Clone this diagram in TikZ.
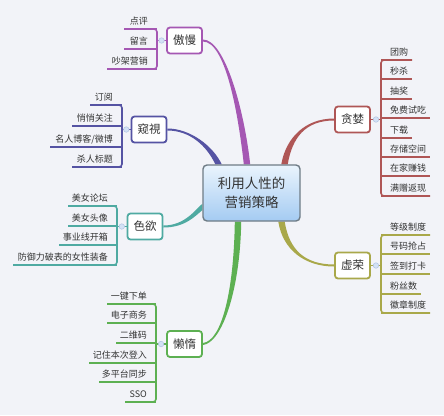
\documentclass[tikz,border=0pt]{standalone}
\usepackage{fontspec}
\setmainfont{Noto Sans CJK SC}
\usetikzlibrary{calc,backgrounds}
\definecolor{bgc}{HTML}{F2F3F8}
\definecolor{cpur}{HTML}{A557B3}
\definecolor{cind}{HTML}{5553A3}
\definecolor{ctea}{HTML}{4FAAA2}
\definecolor{cgre}{HTML}{5DB052}
\definecolor{cred}{HTML}{AF5656}
\definecolor{coli}{HTML}{A9A84A}
\definecolor{txt}{HTML}{333333}
\definecolor{cgray}{HTML}{6F7C86}
\definecolor{knobf}{HTML}{D3E1F5}
\definecolor{knobd}{HTML}{AFC3E3}
\definecolor{ctop}{HTML}{EAF4FD}
\definecolor{cbot}{HTML}{A4CBF2}
\tikzset{
  topic/.style={draw=#1, line width=1.8pt, fill=white, rounded corners=3pt,
    minimum width=35pt, minimum height=26pt, inner sep=0pt,
    font=\fontsize{11.5}{13}\selectfont, text=txt},
  sub/.style={font=\fontsize{9}{10}\selectfont, text=txt, inner sep=0pt},
  brk/.style={draw=#1, line width=1.6pt, rounded corners=3pt},
  link/.style={draw=#1, line width=1.2pt},
  knob/.style={circle, draw=knobd, fill=knobf, line width=0.5pt, minimum size=5.5pt, inner sep=0pt},
}
% left bracket: #1 parent, #2 colour, #3 xb, #4 list text/y/xleft, #5 y first, #6 x first, #7 y last, #8 x last
\newcommand\lbranch[8]{%
  \coordinate (#1-b) at (#3,0);
  \foreach \tx/\yy/\xl [count=\i] in {#4} {
    \node[sub, anchor=base east] (#1-\i) at (#3-9,\yy-4.5) {\tx};
    \draw[brk=#2] (\xl,\yy) -- (#3,\yy);
  }
  \draw[brk=#2] (#6,#5) -- (#3,#5) -- (#3,#7) -- (#8,#7);
  \draw[link=#2] (#1.west) -- node[knob]{} (#1.west -| #1-b);
}
% right bracket
\newcommand\rbranch[8]{%
  \coordinate (#1-b) at (#3,0);
  \foreach \tx/\yy/\xr [count=\i] in {#4} {
    \node[sub, anchor=base west] (#1-\i) at (#3+9,\yy-4.5) {\tx};
    \draw[brk=#2] (#3,\yy) -- (\xr,\yy);
  }
  \draw[brk=#2] (#6,#5) -- (#3,#5) -- (#3,#7) -- (#8,#7);
  \draw[link=#2] (#1.east) -- node[knob]{} (#1.east -| #1-b);
}
% tapered curve: #1 colour, #2 start, #3 c1, #4 c2, #5 end, #6 start offset, #7 end offset
\newcommand\taper[7]{%
  \fill[#1] ($#2+#6$) .. controls ($#3+#6$) and ($#4+#7$) .. ($#5+#7$)
    -- ($#5-#7$) .. controls ($#4-#7$) and ($#3-#6$) .. ($#2-#6$) -- cycle;
}
\begin{document}
\begin{tikzpicture}[x=1pt, y=-1pt]
\useasboundingbox (0,0) rectangle (444,415);

% centre
\node[draw=cgray, line width=1.4pt, rounded corners=4pt, top color=ctop, bottom color=cbot,
      minimum width=97pt, minimum height=56pt, align=center, inner sep=0pt,
      font=\fontsize{13.5}{19.5}\selectfont, text=txt] (center) at (251.5,193) {利用人性的\\营销策略};

% topics
\node[topic=cpur] (aoman)  at (184.5,40.5) {傲慢};
\node[topic=cind] (kuishi) at (149,129.5) {窥視};
\node[topic=ctea] (seyu)   at (145,226.5) {色欲};
\node[topic=cgre] (landuo) at (184.5,344) {懒惰};
\node[topic=cred] (tanlan) at (352.5,119.5) {贪婪};
\node[topic=coli] (xurong) at (352.5,265.5) {虚荣};

% sub-topics
\lbranch{aoman}{cpur}{157}{点评/29/124, 留言/49/124, 吵架营销/69/107}{29}{124}{69}{107}
\lbranch{kuishi}{cind}{122}{订阅/105/90, 悄悄关注/126/72, {名人博客/微博}/147/50, 杀人标题/167/72}{105}{90}{167}{72}
\lbranch{seyu}{ctea}{117}{美女论坛/206/68, 美女头像/226/68, 事业线开箱/245/59, 防御力破表的女性装备/265/13}{206}{68}{265}{13}
\lbranch{landuo}{cgre}{156}{一键下单/304/107, 电子商务/323/107, 二维码/343/116, 记住本次登入/363/89, 多平台同步/382/99, SSO/402/125}{304}{107}{402}{125}
\rbranch{tanlan}{cred}{381}{团购/60/412, 秒杀/79/412, 抽奖/99/412, 免费试吃/118/430, 下载/138/412, 存储空间/157/430, 在家赚钱/176/430, 满赠返现/196/430}{60}{412}{196}{430}
\rbranch{xurong}{coli}{381}{等级制度/235/430, 号码抢占/254/430, 签到打卡/274/430, 粉丝数/294/421, 徽章制度/313/430}{235}{430}{313}{430}

% main branches
\begin{scope}[on background layer]
  \fill[bgc] (0,0) rectangle (444,415);
  \taper{cpur}{(aoman.east)}{(225,40.5)}{(241,110)}{($(center.north)+(-4.5,0)$)}{(0,-1)}{(3.2,0)}
  \taper{cind}{(kuishi.east)}{(190,129.5)}{(210,146)}{($(center.north)+(-33,0)$)}{(0,-1)}{(3.2,0)}
  \taper{ctea}{(seyu.east)}{(185,226.5)}{(195,213)}{($(center.west)+(0,14)$)}{(0,1)}{(0,3.2)}
  \taper{cgre}{(landuo.east)}{(222,342)}{(237,290)}{($(center.south)+(-13.5,0)$)}{(0,1)}{(3.2,0)}
  \taper{cred}{(tanlan.west)}{(305,119.5)}{(289,138)}{($(center.north)+(33,0)$)}{(0,-1)}{(-3.2,0)}
  \taper{coli}{(xurong.west)}{(305,265.5)}{(286,250)}{($(center.south)+(30,0)$)}{(0,1)}{(-3.2,0)}
\end{scope}
\end{tikzpicture}
\end{document}
